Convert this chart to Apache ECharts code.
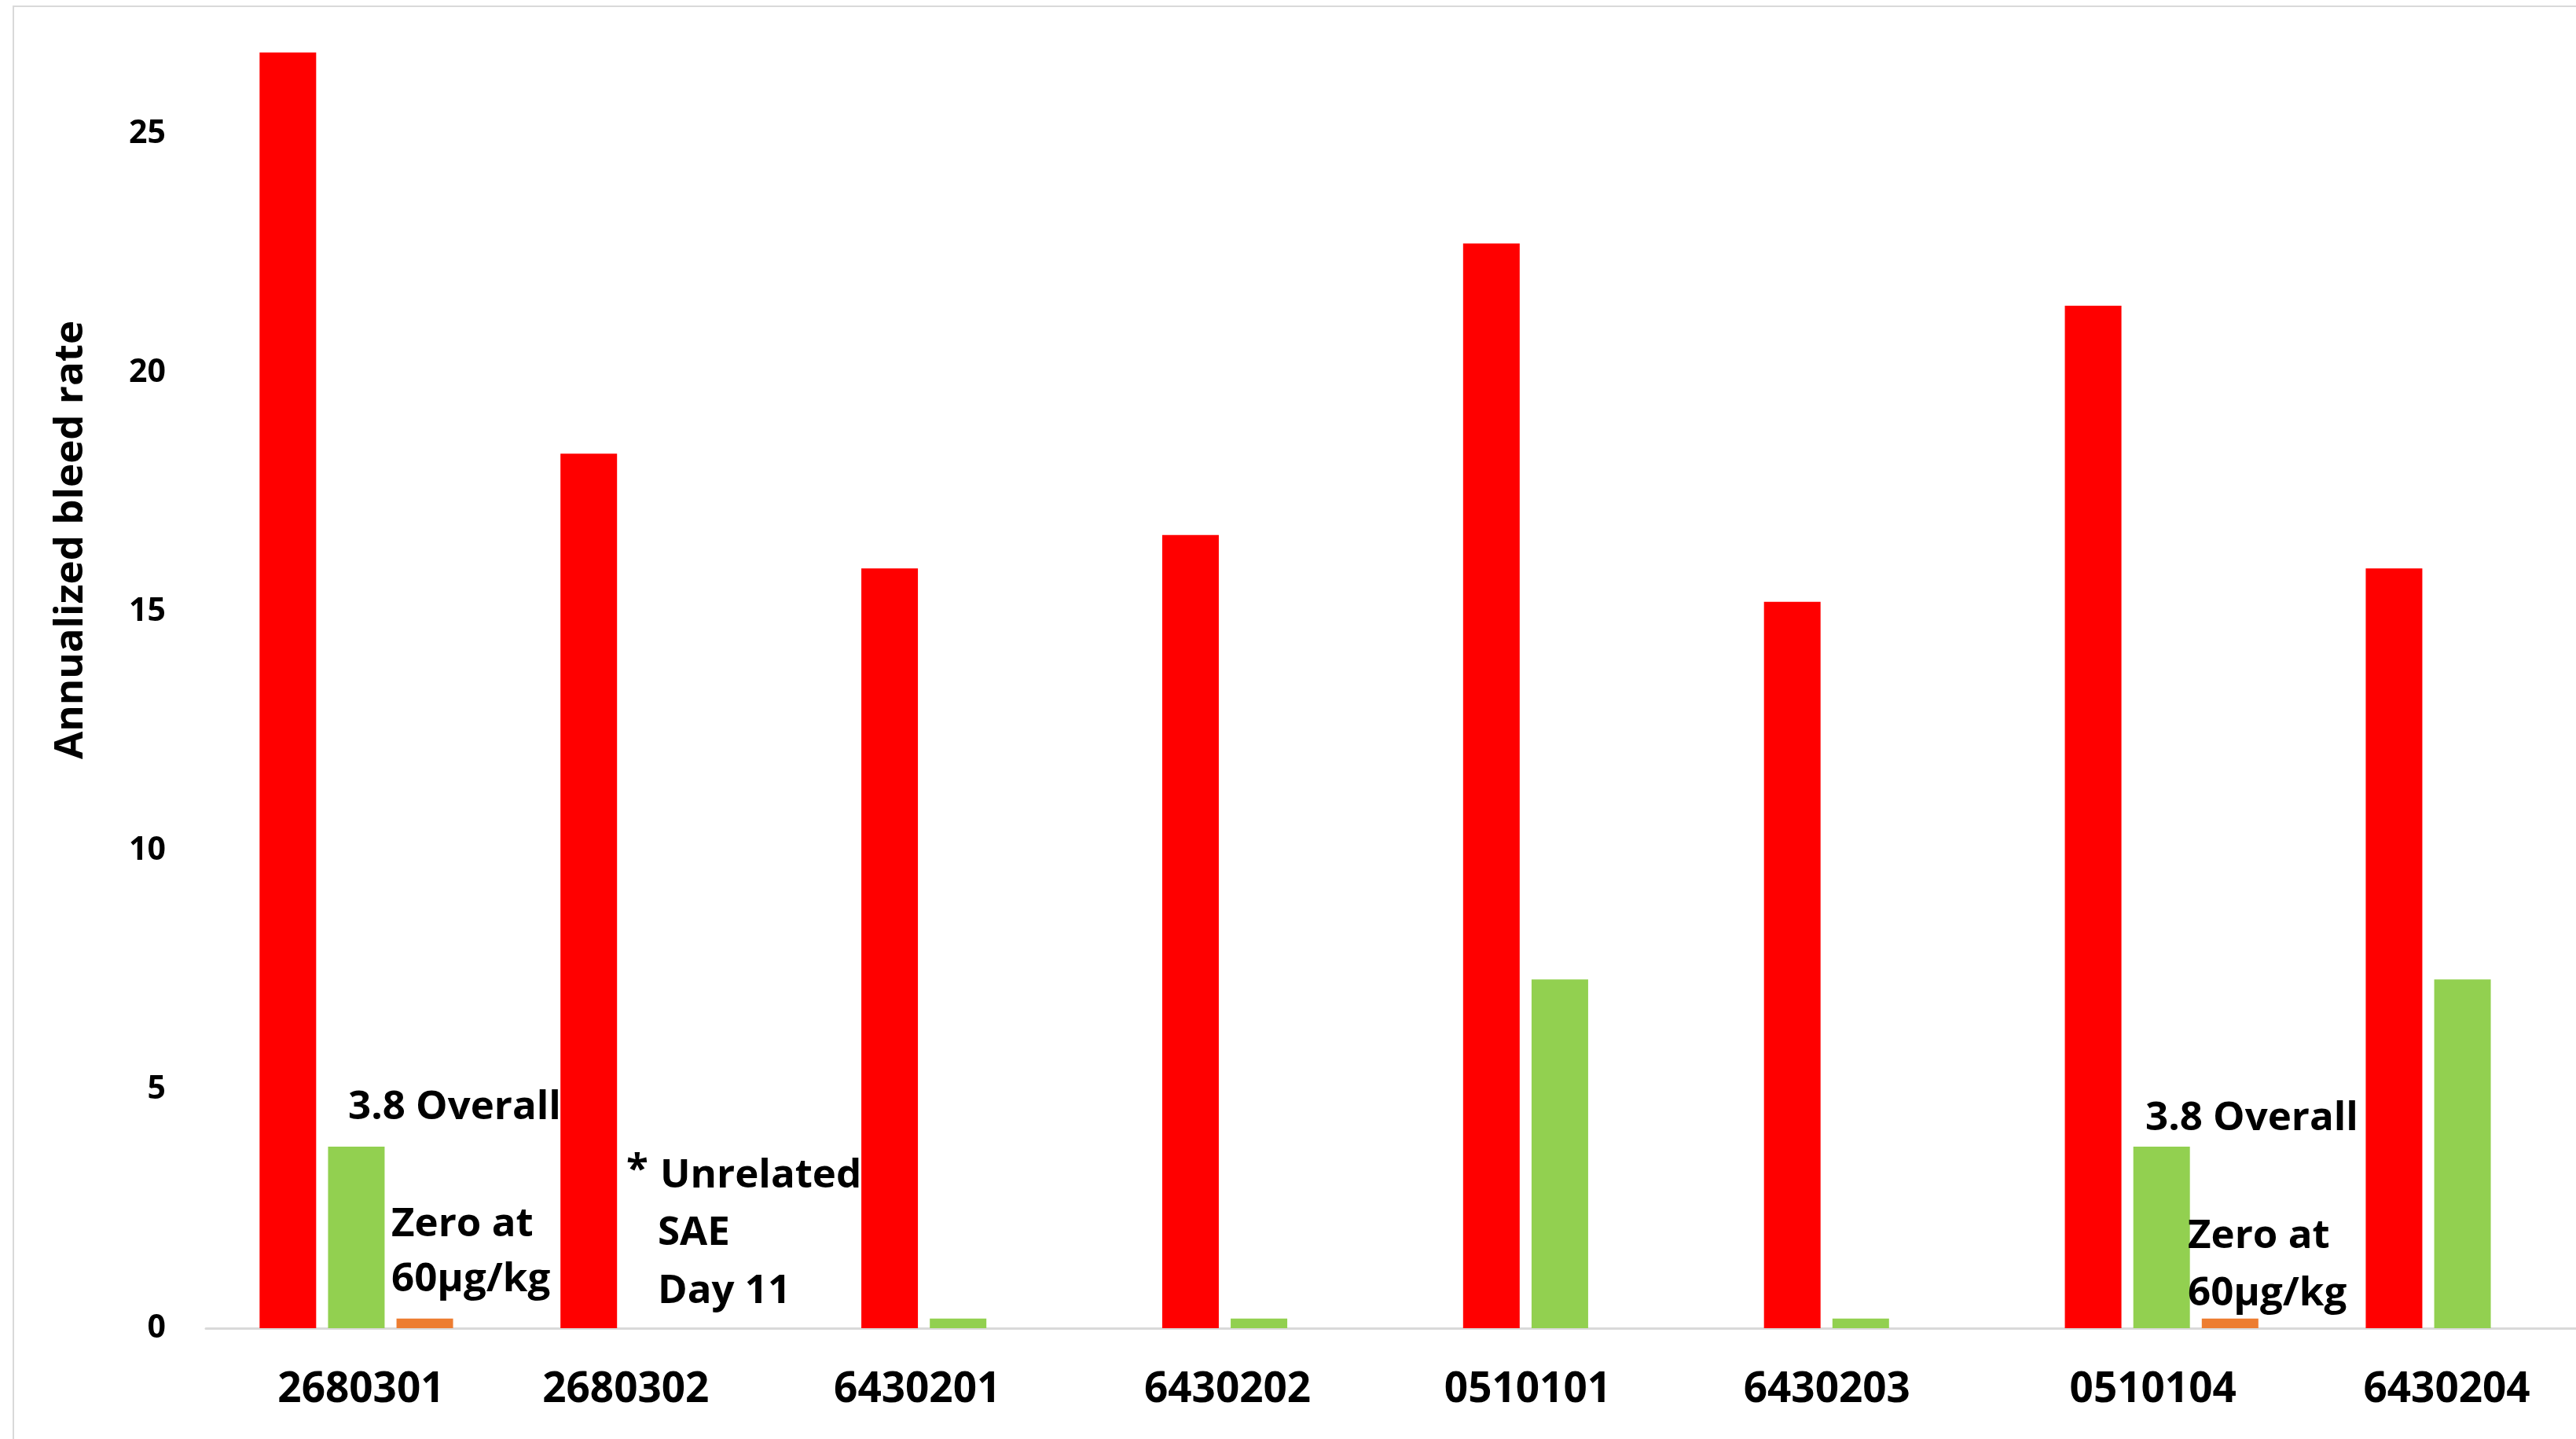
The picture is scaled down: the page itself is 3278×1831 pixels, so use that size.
<!DOCTYPE html>
<html>
<head>
<meta charset="utf-8">
<style>
  html, body { margin: 0; padding: 0; background: #ffffff; overflow: hidden; }
  /* the drawing surface is a little wider than the window: the plot runs past the right edge */
  #chart { width: 3325px; height: 1831px; }
</style>
<script src="https://cdn.jsdelivr.net/npm/echarts@6/dist/echarts.min.js"></script>
</head>
<body>
<div id="chart"></div>
<script>
// Patient IDs along the x axis
const categories = ['2680301', '2680302', '6430201', '6430202', '0510101', '6430203', '0510104', '6430204'];

// Annualized bleed rate per patient
const preTreatmentABR = [26.7, 18.3, 15.9, 16.6, 22.7, 15.2, 21.4, 15.9];
const overallABR      = [3.8, null, 0.2, 0.2, 7.3, 0.2, 3.8, 7.3];
const highDoseABR     = [0.2, null, null, null, null, null, 0.2, null];

// Value axis ticks
const yTickStep = 5;
const yMax = 27;

// Horizontal nudge (px) applied to each patient label
const labelShift = [6, -40, -52, -40, -41, -43, -11, -20];

const FONT = '"Open Sans", "Noto Sans", "Liberation Sans", sans-serif';

const chart = echarts.init(document.getElementById('chart'), null, { renderer: 'canvas' });

const xData = categories.map((c, i) => {
  const s = labelShift[i];
  return {
    value: c,
    textStyle: { padding: s >= 0 ? [0, 0, 0, 2 * s] : [0, -2 * s, 0, 0] }
  };
});

const annoFont = 'bold 51px ' + FONT;
function note(text, x, y) {
  return {
    type: 'text', x: x, y: y, silent: true, z: 100,
    style: { text: text, font: annoFont, fill: '#000000', align: 'left', verticalAlign: 'middle' }
  };
}

chart.setOption({
  animation: false,
  backgroundColor: '#ffffff',
  grid: { left: 262, right: 0, top: 1690 - yMax * 60.8, bottom: 141, containLabel: false },
  xAxis: {
    type: 'category',
    data: xData,
    axisLine: { show: true, lineStyle: { color: '#d9d9d9', width: 3 } },
    axisTick: { show: false },
    axisLabel: {
      interval: 0,
      margin: 52,
      color: '#000000',
      fontFamily: FONT,
      fontWeight: 'bold',
      fontSize: 53
    },
    splitLine: { show: false }
  },
  yAxis: {
    type: 'value',
    min: 0,
    max: yMax,
    interval: yTickStep,
    axisLine: { show: false },
    axisTick: { show: false },
    splitLine: { show: false },
    axisLabel: {
      margin: 51,
      color: '#000000',
      fontFamily: FONT,
      fontWeight: 'bold',
      fontSize: 41,
      formatter: v => (v % yTickStep === 0 ? String(v) : '')
    }
  },
  series: [
    {
      name: 'Pre-treatment ABR', type: 'bar', data: preTreatmentABR,
      barWidth: 72, barGap: '21%',
      itemStyle: { color: '#ff0000' }
    },
    {
      name: 'Overall ABR', type: 'bar', data: overallABR,
      barWidth: 72, barGap: '21%',
      itemStyle: { color: '#92d050' }
    },
    {
      name: 'ABR at 60µg/kg', type: 'bar', data: highDoseABR,
      barWidth: 72, barGap: '21%',
      itemStyle: { color: '#ed7d31' }
    }
  ],
  graphic: [
    // outer frame
    {
      type: 'rect', silent: true,
      shape: { x: 17, y: 8, width: 3400, height: 1900 },
      style: { fill: 'none', stroke: '#d9d9d9', lineWidth: 2 }
    },
    // value axis title
    {
      type: 'text', x: 90, y: 687, rotation: Math.PI / 2, silent: true, z: 100,
      style: {
        text: 'Annualized bleed rate', font: 'bold 51px ' + FONT, fill: '#000000',
        align: 'center', verticalAlign: 'middle'
      }
    },
    // notes for patient 2680301
    note('3.8 Overall', 443, 1409),
    note('Zero at', 498, 1558),
    note('60µg/kg', 498, 1628),
    // notes for patient 2680302
    note('*', 797, 1489),
    note('Unrelated', 840, 1496),
    note('SAE', 837, 1569),
    note('Day 11', 837, 1643),
    // notes for patient 0510104
    note('3.8 Overall', 2730, 1423),
    note('Zero at', 2784, 1573),
    note('60µg/kg', 2784, 1646)
  ]
});
</script>
</body>
</html>
